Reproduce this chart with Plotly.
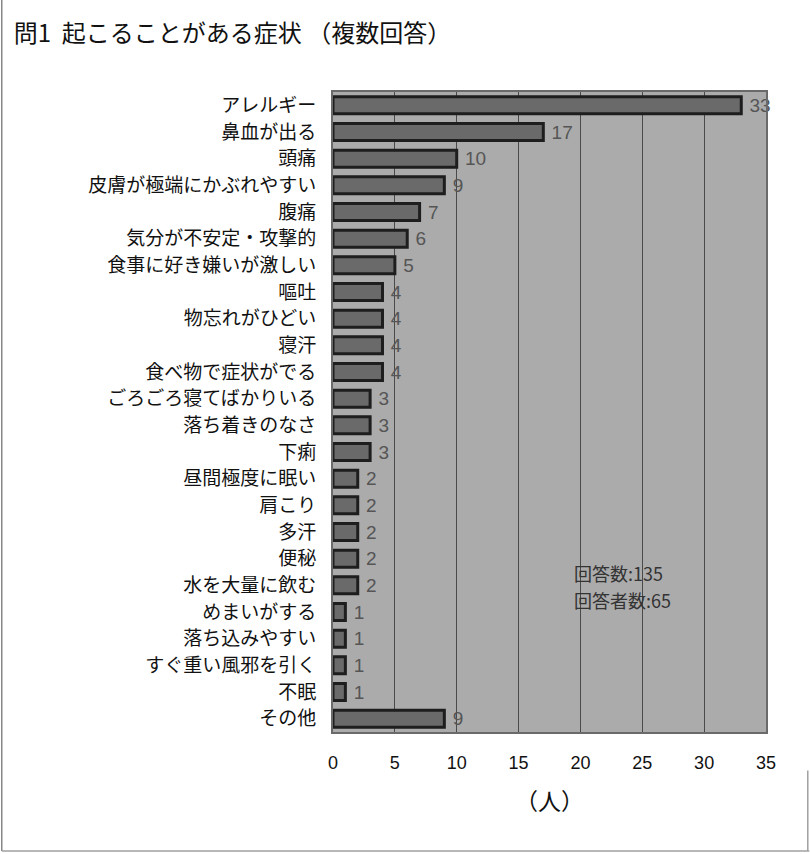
import plotly.graph_objects as go

categories = ["アレルギー", "鼻血が出る", "頭痛", "皮膚が極端にかぶれやすい", "腹痛",
              "気分が不安定・攻撃的", "食事に好き嫌いが激しい", "嘔吐", "物忘れがひどい", "寝汗",
              "食べ物で症状がでる", "ごろごろ寝てばかりいる", "落ち着きのなさ", "下痢",
              "昼間極度に眠い", "肩こり", "多汗", "便秘", "水を大量に飲む", "めまいがする",
              "落ち込みやすい", "すぐ重い風邪を引く", "不眠", "その他"]
values = [33, 17, 10, 9, 7, 6, 5, 4, 4, 4, 4, 3, 3, 3, 2, 2, 2, 2, 2, 1, 1, 1, 1, 9]
tick_vals = [0, 5, 10, 15, 20, 25, 30, 35]
summary_lines = ["回答数:135", "回答者数:65"]

FONT = "Noto Sans CJK JP"
NUMFONT = "Liberation Sans"

fig = go.Figure(go.Bar(
    x=values, y=categories, orientation="h",
    marker=dict(color="#6a6a6a", line=dict(color="#1e1e1e", width=3)),
    texttemplate=" %{x}", textposition="outside", cliponaxis=False,
    constraintext="none",
    textfont=dict(family=NUMFONT, size=19, color="#555555"),
    width=0.64,
))

fig.update_layout(
    width=810, height=854,
    margin=dict(l=333, r=44, t=92, b=122),
    paper_bgcolor="white", plot_bgcolor="#ababab",
    font=dict(family=FONT, color="#111111"),
    showlegend=False,
    title=dict(text="問1  起こることがある症状 （複数回答）", x=0.017, xanchor="left",
               y=0.961, yanchor="middle", font=dict(family=FONT, size=24, color="#111111")),
    xaxis=dict(range=[0, 35], tickvals=tick_vals, showgrid=True, gridcolor="#4a4a4a", gridwidth=1,
               zeroline=False, showline=True, linecolor="#6a6a6a", mirror=True, linewidth=2,
               ticks="", ticklabelstandoff=13,
               tickfont=dict(family=NUMFONT, size=18, color="#111111")),
    yaxis=dict(autorange="reversed", showgrid=False, showline=True, linecolor="#6a6a6a", mirror=True,
               linewidth=2, ticks="", ticklabelstandoff=11,
               tickfont=dict(family=FONT, size=19, color="#111111")),
    annotations=[
        dict(text=summary_lines[0], xref="x", yref="y", x=19.35, y=17.53,
             xanchor="left", yanchor="middle", showarrow=False, align="left",
             font=dict(family=FONT, size=18, color="#333333")),
        dict(text=summary_lines[1], xref="x", yref="y", x=19.35, y=18.55,
             xanchor="left", yanchor="middle", showarrow=False, align="left",
             font=dict(family=FONT, size=18, color="#333333")),
        dict(text="（人）", xref="paper", yref="paper", x=0.5, y=-0.106,
             xanchor="center", yanchor="middle", showarrow=False,
             font=dict(family=FONT, size=23, color="#111111")),
    ],
    shapes=[
        dict(type="line", xref="paper", yref="paper", x0=-0.765, x1=-0.765, y0=-0.186, y1=1.144,
             line=dict(color="#888888", width=1.5)),
        dict(type="line", xref="paper", yref="paper", x0=-0.765, x1=1.1, y0=-0.186, y1=-0.186,
             line=dict(color="#a0a0a0", width=1.5)),
        dict(type="line", xref="paper", yref="paper", x0=1.0965, x1=1.0965, y0=-0.186, y1=-0.06,
             line=dict(color="#a0a0a0", width=1.5)),
    ],
)

fig.write_html("out.html", config={"displayModeBar": False},
               post_script="document.body.style.margin='0';")
